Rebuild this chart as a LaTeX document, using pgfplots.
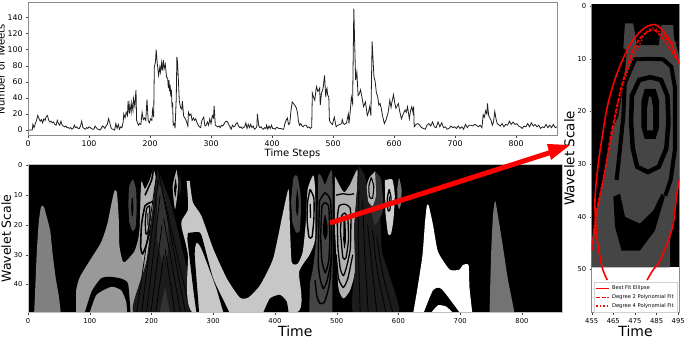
\documentclass[border=0pt]{standalone}
\usepackage{fontspec}
\setmainfont{DejaVu Sans}
\usepackage{pgfplots}
\pgfplotsset{compat=1.18}
\definecolor{redfit}{HTML}{FF0000}
\pgfplotsset{
  panel/.style={
    scale only axis,
    anchor=south west,
    tick align=outside,
    xtick pos=left,
    ytick pos=left,
    major tick length=2pt,
    tick style={black!75,line width=0.4pt},
    axis line style={black!45,line width=0.7pt},
    /pgf/number format/assume math mode=true,
    /pgf/number format/1000 sep={},
    axis on top,
  },
  blob/.style={draw=none,fill=#1,forget plot},
  ring/.style={black,line width=#1,forget plot},
}
\definecolor{gA}{gray}{0.50}
\definecolor{gB}{gray}{0.60}
\definecolor{gC}{gray}{0.70}
\definecolor{gD}{gray}{0.78}
\definecolor{gE}{gray}{0.27}
\definecolor{gF}{gray}{0.11}
\definecolor{gG}{gray}{0.20}
\begin{document}
\begin{tikzpicture}[x=1pt,y=1pt]
\useasboundingbox (0,0) rectangle (685,338);

% tweets per time step
\begin{axis}[panel,at={(28pt,202.5pt)},width=529pt,height=133pt,
  xmin=0,xmax=867,ymin=-6.8,ymax=158.6,
  xtick={0,100,...,800},ytick={0,20,...,140},
  tick label style={font=\fontsize{7.8}{8}\selectfont},
  xlabel={Time Steps},ylabel={Number of Tweets},
  label style={font=\fontsize{10}{11}\selectfont},
  xlabel style={yshift=5pt},ylabel style={yshift=-4pt}]
\addplot[black!88,line width=0.8pt] coordinates {
(0,0)(7,0)(8,7)(10,3)(12,8)(14,12)(16,18)(18,14)(20,11)(22,13)(24,9)(26,14)(28,12)(30,17)(32,18)(34,12)(36,10)(38,11)(40,9)(42,10)(44,7)(46,6)(48,12)(50,8)(52,6)(54,11)(56,6)(58,5)(60,4)(62,5)(64,3)(66,3)(68,2)(70,3)(72,1)(74,2)(76,6)(78,3)(80,4)(82,2)(84,2)(86,5)(88,11)(90,3)(92,2)(94,1)(96,3)(98,2)(100,4)(102,3)(104,2)(106,1)(108,1)(110,5)(112,3)(114,1)(116,1)(118,0)(120,2)(122,5)(124,4)(126,2)(128,5)(130,7)(132,14)(134,9)(136,3)(138,1)(140,1)(142,0)(144,8)(146,2)(148,7)(150,1)(152,4)(154,3)
(156,10)(157,20)(159,15)(161,22)(163,18)(164,36)(166,20)(167,32)(169,22)(170,34)(172,24)(173,39)(175,30)(177,50)(178,12)(181,6)(183,8)(185,7)(187,22)(189,13)(191,15)(193,12)(195,38)(197,12)(199,9)(201,14)(203,12)(204,25)(206,16)(207,78)(209,85)(210,100)(212,82)(214,68)(216,78)(217,72)(219,84)(220,74)(222,87)(223,76)(225,82)(227,66)(229,64)(230,52)(231,62)(232,48)(233,56)(234,42)(235,50)(236,30)(237,32)(238,6)(240,8)(241,2)(243,40)(244,91)(245,85)(246,70)(248,36)(250,28)(252,26)(253,36)(255,18)(256,16)(258,14)(260,10)(262,5)(263,22)(265,18)(267,20)(269,12)(271,15)(273,12)(275,14)(277,9)(279,6)(281,4)(283,3)(285,12)(287,15)(288,16)(290,5)(292,6)(294,10)(296,6)(298,14)(300,8)(302,18)(304,15)(305,30)(307,6)
(309,5)(311,4)(313,5)(315,3)(317,6)(319,5)(321,7)(323,10)(325,11)(327,10)(329,7)(331,4)(333,1)(335,6)(337,4)(339,5)(341,8)(343,9)(345,5)(347,3)(349,4)(351,2)(353,3)(355,4)(357,9)(359,2)(361,7)(363,3)(365,7)(367,3)(369,5)(371,1)(373,2)(375,4)(376,20)(378,6)(380,3)(382,4)(384,2)(386,1)(388,3)(390,2)(391,6)(393,1)(395,5)(397,2)(399,6)(401,2)(403,2)(405,1)(407,3)(409,3)(411,2)(413,2)(415,2)(417,1)(419,1)(421,8)(423,12)(425,15)(427,7)(429,8)(431,24)(433,35)(436,32)(438,30)(440,27)(442,20)(443,12)(445,6)(447,8)(449,5)(451,4)(453,6)(456,6)(458,3)(460,4)(463,2)(465,4)(466,46)(468,41)(470,37)(472,50)(473,54)(475,48)(477,50)(478,52)(479,31)(481,46)(483,50)(484,54)(486,68)(488,41)(489,50)(490,52)(491,44)(493,41)(494,12)(496,9)(499,7)(502,16)(505,4)(508,6)(511,7)(514,8)(515,13)(517,8)(519,7)(522,9)(525,20)(526,8)(528,22)(530,41)(532,33)(534,151)(536,90)(537,62)(539,72)(541,43)(543,45)(545,50)(547,42)(550,29)(552,33)(553,35)(556,18)(558,22)(560,29)(562,18)(564,110)(566,80)(567,66)(569,60)(571,46)(573,42)(575,31)(577,33)(579,27)(581,18)(584,8)(587,13)(590,21)(593,37)(595,28)(596,33)(598,40)(599,44)(601,34)(603,27)(605,30)(607,33)(609,24)(612,14)(615,20)(618,25)(620,22)(622,29)(625,14)(627,24)(629,29)(631,22)(632,29)(633,4)
(636,7)(639,8)(642,6)(645,3)(648,2)(651,1)(654,6)(657,8)(660,5)(663,10)(666,4)(669,3)(672,10)(675,4)(678,9)(681,3)(684,4)(687,1)(690,2)(693,5)(696,3)(699,4)(702,2)(705,5)(708,2)(711,4)(714,1)(717,7)(720,3)(723,6)(726,6)(729,5)(732,7)(735,6)(738,4)(741,6)(744,3)(746,19)(748,16)(750,24)(752,20)(753,33)(755,18)(757,15)(759,12)(761,6)(763,10)(765,23)(767,14)(769,8)(771,7)(774,5)(777,8)(780,4)(783,7)(786,6)(789,11)(792,7)(795,10)(798,7)(801,8)(804,5)(807,4)(810,2)(813,5)(816,4)(819,8)(822,4)(825,9)(828,5)(831,7)(834,4)(837,6)(840,2)(843,4)(846,3)(849,7)(852,3)(855,6)(858,3)(861,7)(864,3)(867,4)};
\end{axis}

% wavelet map, filled contour regions from back to front
\begin{axis}[panel,at={(28pt,25.3pt)},width=534.7pt,height=148.7pt,
  xmin=0,xmax=866,ymin=-0.5,ymax=49.5,y dir=reverse,
  axis background/.style={fill=black},
  xtick={0,100,...,800},ytick={0,10,...,40},
  tick label style={font=\fontsize{6.8}{7}\selectfont},
  axis line style={black!25,line width=0.7pt},
  xlabel={Time},ylabel={Wavelet Scale},
  xlabel style={font=\fontsize{14}{15}\selectfont,yshift=4pt},
  ylabel style={font=\fontsize{12.5}{14}\selectfont,yshift=-4pt},
  every axis plot/.append style={smooth,tension=0.35}]
\addplot[blob=gA] coordinates {(10,49.5)(12,40)(14,30)(17,20)(20,15)(22,13.5)(26,14)(30,17)(36,22)(40,30)(45,38)(50,44)(53,49.5)} -- cycle;
\addplot[blob=gB] coordinates {(78,49.5)(78,42)(84,37.5)(100,32)(118,26)(128,20)(136,12)(140,8.5)(144,9)(147,18)(148,27)(153,32)(157,32.5)(165,30.8)(173,28.6)(179,24.2)(182.5,17.5)(182.5,9.7)(184,5.3)(189.5,8)(197.6,4.7)(203,1.4)(207,5.3)(200,25)(170.6,49.5)} -- cycle;
\addplot[blob=gC] coordinates {(184,5.3)(189.5,8)(197.6,4.7)(203,1.4)(207,5.3)(203,22)(188,33)(181,25)(182.5,10)} -- cycle;
\addplot[ring=1.6pt] coordinates {(203,1.5)(200,5)(189.5,10)};
\addplot[ring=1.6pt] coordinates {(203,12)(197.6,12.5)(189.5,13.6)(184,19.7)(182.5,27.5)(185.7,29.7)(192,26.4)(198.7,20.8)(203,15.3)};
\addplot[ring=1.3pt] coordinates {(197,13.5)(192,14.5)(190,19)(191,23)(194,22.5)(197.5,18)(197,13.5)};
\addplot[blob=black] coordinates {(193.5,16)(195,16)(195,20)(193.5,20)} -- cycle;
\addplot[blob=black] coordinates {(92,49.5)(103,42.4)(118,38)(132,37.4)(150,38)(162,39.7)(166,49.5)} -- cycle;
\addplot[blob=gB] coordinates {(100,49.5)(111,43.5)(135,40.8)(151,42)(159,45.8)(160.5,49.5)} -- cycle;
\addplot[blob=gE] coordinates {(162.5,13)(164,7)(170,4.7)(175,8)(176,15)(174,21)(169,22)(164,19)} -- cycle;
\addplot[blob=black] coordinates {(167,14)(168,11)(170,11)(170.6,15)(169.5,17)(168,17)} -- cycle;
% dark wedge near 220
\addplot[blob=gF] coordinates {(209.5,1.4)(219,5.8)(230,12)(238,18)(249,27.5)(268,49.5)(170.6,49.5)(192,32)(205.7,6.4)} -- cycle;
\addplot[blob=gG] coordinates {(209,6)(222,10)(228,25)(224,33)(222,30)(218,33)(209,25)} -- cycle;
\addplot[blob=gG] coordinates {(222,41)(214,49.5)(230,49.5)} -- cycle;
\addplot[ring=0.8pt] coordinates {(209,2)(176,49.5)};
\addplot[ring=0.8pt] coordinates {(211,5)(184,49.5)};
\addplot[ring=0.8pt] coordinates {(214,10)(192,49.5)};
\addplot[ring=0.8pt] coordinates {(217,20)(199,49.5)};
\addplot[ring=0.8pt] coordinates {(220,30)(207,49.5)};
\addplot[ring=0.8pt] coordinates {(212,3)(263,49.5)};
\addplot[ring=0.8pt] coordinates {(217,8)(255,49.5)};
\addplot[ring=0.8pt] coordinates {(220,18)(247,49.5)};
\addplot[ring=0.8pt] coordinates {(222,28)(238,49.5)};
\addplot[blob=gC] coordinates {(240.8,1.4)(234.3,7)(238,14.7)(242,9.7)(243.5,5.3)} -- cycle;
\addplot[blob=black] coordinates {(239,4.2)(236.5,8)(238.6,10.8)(241,7)} -- cycle;
\addplot[blob=gF] coordinates {(246,2)(244.5,7)(246,11)(248,7)} -- cycle;
% large light region
\addplot[blob=gD] coordinates {(257,5.2)(259,11.3)(259,15)(249,18.5)(249,21)(259,30)(267.5,49.5)(435,49.5)(439,35.8)(456,30)(465,24.7)(465,8)(462,3.3)(453,8)(450,19)(445,29)(437,33)(427,32.4)(424,19)(422,8)(413,15.8)(397,31.3)(376,40.2)(357,44.4)(343,44.4)(322,38)(300,28)(281,17)(267,12.4)(262,5.2)} -- cycle;
\addplot[blob=black] coordinates {(381,49.5)(392,44.7)(408,43.5)(419,45.8)(422,49.5)} -- cycle;
\addplot[blob=black] coordinates {(258,24.7)(267.5,41.3)(273,49.5)(277,49.5)(270,30)(273,26)(281,28)(305,41.3)(317,49.5)(326,49.5)(300,38)(281,23.5)(273,22.4)(259,22.7)} -- cycle;
\addplot[blob=gE] coordinates {(426,12)(430,4)(436,3.5)(441,9)(442,15)(440,22)(434,22.5)(428,19)} -- cycle;
\addplot[blob=black] coordinates {(434,12)(436,8)(438,11)(438,15)(436,17)(434,15)} -- cycle;
\addplot[ring=1.4pt] coordinates {(457,8)(453,12)(452,18)(455,24)(460,24)(463,18)(463,11)(457,8)};
\addplot[blob=black] coordinates {(456,13)(458,13)(458.5,17.5)(456.5,17.5)} -- cycle;
% dark column near 475
\addplot[blob=gE] coordinates {(455.6,49.5)(456.7,39.7)(462,34)(468.6,20.8)(470,3.6)(475,3.6)(481,6.4)(486.4,3.6)(493,3.6)(493,49.5)} -- cycle;
\addplot[ring=1.4pt] coordinates {(464.8,38.6)(468,44)(473,46.4)(480,46)(486,42)(489,38.6)(492,30)};
\addplot[ring=1.4pt] coordinates {(472,12)(470,32)(473,38)(478.3,41.4)(484,39)(490,33)(491.8,25)(490,12)(481,9.2)(472,12)};
\addplot[ring=1.4pt] coordinates {(474,24)(476,14)(481,12.5)(487,14)(489,24)(487,32)(481.5,36)(476,32)(474,24)};
\addplot[blob=black] coordinates {(478,20)(481,16.4)(485,20)(485,23)(481.5,25)(478,23)} -- cycle;
% lighter column near 510
\addplot[blob=gC] coordinates {(497,3.6)(508,8)(513,9)(521.5,6.4)(533.4,1.4)(532.3,9.7)(528.5,20.8)(529.6,35.3)(521.5,42)(510.7,44.7)(502.6,40.8)(497,20.8)} -- cycle;
\addplot[ring=1.3pt] coordinates {(499,10)(510,9.5)(520,9.8)(528,9.5)};
\addplot[ring=1.3pt] coordinates {(499,30)(503,38)(510.7,41)(518,38)(526,30)};
\addplot[ring=1.3pt] coordinates {(502,28)(506,35)(511,37)(516,34)(522,28)(523,18)(521.5,14.2)(513.4,13)(504,13.6)(501,18)(502,28)};
\addplot[ring=1.3pt] coordinates {(506,22)(508,17)(513,16)(518,18)(519,25)(515,31)(510,31)(506,22)};
\addplot[blob=black] coordinates {(511,18.5)(514,18.5)(515,25)(512.5,28)(510.5,25)} -- cycle;
% dark wedge near 560
\addplot[blob=gF] coordinates {(536.6,0.3)(546,3.6)(551,12)(570,17.5)(573,28.6)(586,37.5)(600,49.5)(527,49.5)(529.6,35)(528.5,20.8)(532.3,9.7)} -- cycle;
\addplot[ring=0.8pt] coordinates {(536,8)(535,25)(538,49.5)};
\addplot[ring=0.8pt] coordinates {(542,12)(545,28)(551,49.5)};
\addplot[ring=0.8pt] coordinates {(550,20)(556,32)(565,49.5)};
\addplot[ring=0.8pt] coordinates {(558,22)(566,36)(580,49.5)};
\addplot[ring=0.8pt] coordinates {(565,24)(574,36)(591,49.5)};
\addplot[blob=gG] coordinates {(562,2)(572,4.7)(575,15)(562,20)(556,15)} -- cycle;
\addplot[blob=gC] coordinates {(562,2)(563.6,10)(558,13.6)(551,12)(548.5,7)(553,4)} -- cycle;
\addplot[ring=1.1pt] coordinates {(556,4)(552,7)(553,10.5)(558,11)(560,7)(556,4)};
\addplot[blob=gD!85!white] coordinates {(578,5)(590,4.7)(594,10)(592,18)(588,23)(583,23)(579,16)} -- cycle;
\addplot[ring=1.3pt] coordinates {(585,8)(582,11)(583,15)(586,15)(588,11)(585,8)};
\addplot[blob=black] coordinates {(584.5,10.5)(586,10.5)(586,13)(584.5,13)} -- cycle;
\addplot[blob=gE!75!white] coordinates {(598,8)(601,4.2)(605,8)(604,13)(601,14.7)(598.5,13)} -- cycle;
% white region
\addplot[blob=white] coordinates {(624,49.5)(631,41)(639,30)(643,19)(646,13.5)(649,13.5)(656,20)(664,29)(683,35)(699,35)(704,33.5)(713.5,33.5)(715,41)(719.5,49.5)} -- cycle;
\addplot[blob=black] coordinates {(641,49.5)(656,42)(669.5,41.5)(699,49.5)} -- cycle;
\addplot[blob=white] coordinates {(653,49.5)(664,47)(677,47.4)(688,49.5)} -- cycle;
\addplot[blob=black!55] coordinates {(747.5,49.5)(750,30)(753,17)(755.7,12.4)(758,13)(769,27)(777,38)(788,49.5)} -- cycle;
\end{axis}

% close-up with the three fitted curves
\begin{axis}[panel,at={(591.7pt,25.3pt)},width=87.6pt,height=308.7pt,
  xmin=455,xmax=495.5,ymin=-0.4,ymax=58.2,y dir=reverse,
  axis on top=false,
  xtick={455,465,...,495},ytick={0,10,...,50},
  tick label style={font=\fontsize{6.8}{7}\selectfont},
  xlabel={Time},ylabel={Wavelet Scale},
  xlabel style={font=\fontsize{14}{15}\selectfont,yshift=4pt},
  ylabel style={font=\fontsize{13.5}{15}\selectfont,yshift=-4pt},
  legend style={at={(0.5,0)},anchor=south,draw=black!18,fill=white,
    font=\fontsize{5.2}{6}\selectfont,row sep=-0.6pt,inner sep=1.5pt,cells={anchor=west}},
  legend image code/.code={\draw[#1] (0pt,0pt) -- (13pt,0pt);}]
\addplot[blob=black] coordinates {(455,-0.4)(495.5,-0.4)(495.5,49.6)(455,49.6)} -- cycle;
\addplot[blob=gE] coordinates {(470.4,3.3)(474.2,3.3)(475,5.2)(475.8,7.4)(486,7.4)(487.3,3.6)(492.7,3.6)(493,6)(495.5,9.5)(495.5,33)(493.5,38.1)(491.2,44.5)(491.2,49.6)(455,49.6)(455,44.5)(457.3,38.8)(461.9,29.3)(464.2,23.6)(467.3,21)(468.8,17.2)(470.4,12.5)(471.2,8.4)(469.6,8)} -- cycle;
\addplot[blob=black] coordinates {(476,5)(478,3.9)(483,4.6)(485.5,5.5)(486,7.4)(475.8,7.4)} -- cycle;
\addplot[blob=black] coordinates {(465,36.2)(465.8,41.9)(468.8,46.4)(477.3,46.4)(484.2,42.6)(488.8,36.2)(487.3,35.6)(483.5,38.8)(477.3,41.3)(470.4,40)(468.1,35.6)} -- cycle;
\addplot[ring=4pt] coordinates {(466.5,33)(468,27.4)(469.6,21)(470.3,14.7)(475,10.1)(481,10)(488,10.1)(491.8,11.5)(493.4,15.3)(493.4,27.4)(491.5,33)(489,36)};
\addplot[ring=4.5pt] coordinates {(473.2,22)(473.6,17)(477,14)(482,13.5)(487,14)(490,17)(490.5,22)(489.5,27)(486,30.5)(481,31.5)(476,30.5)(474,27)(473.2,22)};
\addplot[blob=black] coordinates {(478,18)(479.5,15.7)(484.5,15.7)(486.2,18)(486.2,23)(484.5,25.2)(479.5,25.2)(478,23)} -- cycle;
\addplot[blob=gE] coordinates {(481.5,17.2)(482.5,17.2)(483.4,19.5)(483.4,23.6)(480.6,23.6)(480.6,19.5)} -- cycle;
\addplot[redfit,line width=1.6pt,smooth,tension=0.5] coordinates {(462.2,52)(459.6,49.3)(457.3,43.6)(456.5,37)(458,30)(460.1,24.2)(461.9,19.7)(464.2,15.9)(466.5,13)(469.6,9.9)(473.5,6.8)(477.3,4.9)(480.4,3.9)(484.2,3.5)(487.3,4.4)(490.4,6.1)(492.7,8)(494.5,9.9)(495.5,10.9)(498,14)(499,25)(497,31)(495.5,33)(494.2,36.2)(492.7,41.3)(490.4,44.5)(488,47)(485.8,48.9)(483.5,50)(480.6,52)};
\addlegendentry{Best Fit Ellipse}
\addplot[redfit,line width=1.6pt,dash pattern=on 4pt off 1.6pt,smooth,tension=0.5] coordinates {(455,46.4)(456.5,42)(458,37.5)(460.4,33)(461.9,29.3)(464.2,23.6)(465,22.3)(467.3,17.8)(469.6,14)(473.5,9)(477.3,6.1)(480.5,5)(484.2,4.6)(489.6,7.1)(495.5,10.9)};
\addlegendentry{Degree 2 Polynomial Fit}
\addplot[redfit,line width=1.6pt,dash pattern=on 1.5pt off 2pt,smooth,tension=0.5] coordinates {(455.5,45.2)(456.1,42)(457.3,38.8)(458.8,35.9)(460.7,32)(462.7,28)(464.7,23.6)(465.3,22.3)(467.3,18.5)(469.6,14.7)(473.5,10.3)(477.3,7.1)(480,5)(483.5,4.2)(487.3,5.2)(491.2,6.8)(494.5,7.1)};
\addlegendentry{Degree 4 Polynomial Fit}
\end{axis}

% annotation arrow from the map to the close-up
\draw[redfit,line width=5pt] (330,115) -- (552,186);
\fill[redfit] (570,193) -- (547,194) -- (551,178) -- cycle;
\end{tikzpicture}
\end{document}
